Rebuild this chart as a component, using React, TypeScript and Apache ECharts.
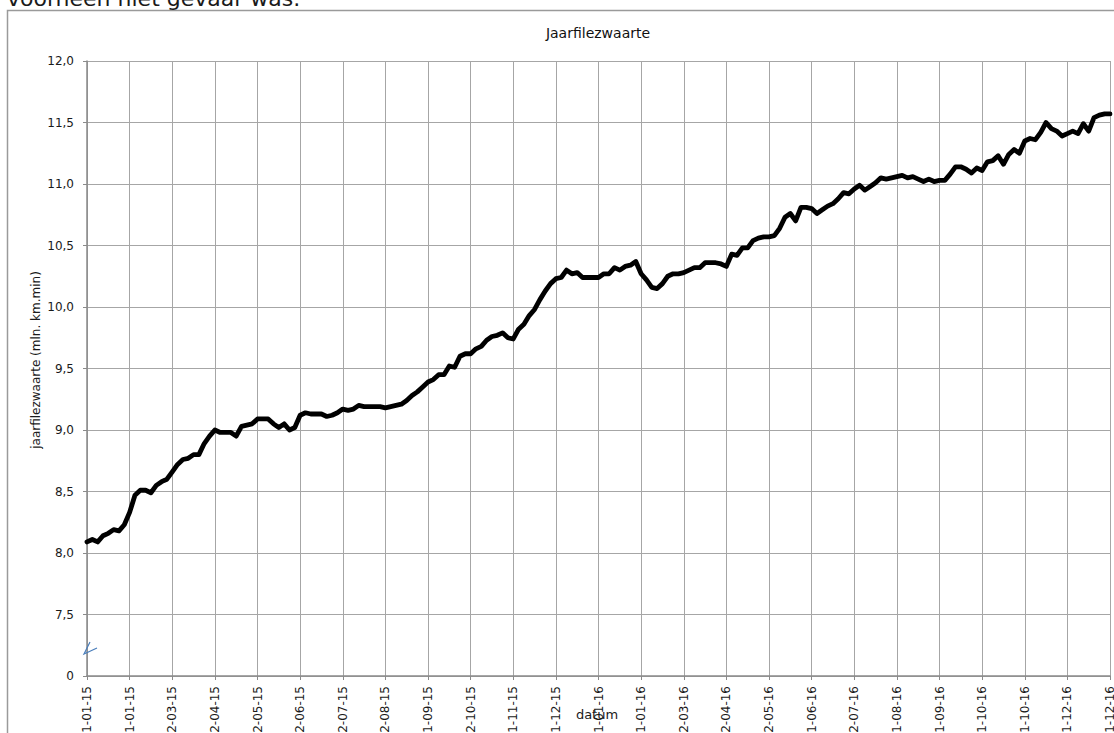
import React, { useEffect, useRef } from "react";
import * as echarts from "echarts";

const tickLabels = [
  "01-01-15", "31-01-15", "02-03-15", "02-04-15", "02-05-15", "02-06-15", "02-07-15", "02-08-15",
  "01-09-15", "02-10-15", "01-11-15", "01-12-15", "01-01-16", "31-01-16", "02-03-16", "02-04-16",
  "02-05-16", "01-06-16", "02-07-16", "01-08-16", "01-09-16", "01-10-16", "31-10-16", "01-12-16", "31-12-16",
];

// sampled every 1/8 of a label interval
const pointsPerTick = 8;
const jaarfilezwaarte = [
  8.09, 8.11, 8.09, 8.14, 8.16, 8.19, 8.18, 8.23, 8.33, 8.47,
  8.51, 8.51, 8.49, 8.55, 8.58, 8.60, 8.66, 8.72, 8.76, 8.77,
  8.80, 8.80, 8.89, 8.95, 9.00, 8.98, 8.98, 8.98, 8.95, 9.03,
  9.04, 9.05, 9.09, 9.09, 9.09, 9.05, 9.02, 9.05, 9.00, 9.02,
  9.12, 9.14, 9.13, 9.13, 9.13, 9.11, 9.12, 9.14, 9.17, 9.16,
  9.17, 9.20, 9.19, 9.19, 9.19, 9.19, 9.18, 9.19, 9.20, 9.21,
  9.24, 9.28, 9.31, 9.35, 9.39, 9.41, 9.45, 9.45, 9.52, 9.51,
  9.60, 9.62, 9.62, 9.66, 9.68, 9.73, 9.76, 9.77, 9.79, 9.75,
  9.74, 9.82, 9.86, 9.93, 9.98, 10.06, 10.13, 10.19, 10.23, 10.24,
  10.30, 10.27, 10.28, 10.24, 10.24, 10.24, 10.24, 10.27, 10.27, 10.32,
  10.30, 10.33, 10.34, 10.37, 10.27, 10.22, 10.16, 10.15, 10.19, 10.25,
  10.27, 10.27, 10.28, 10.30, 10.32, 10.32, 10.36, 10.36, 10.36, 10.35,
  10.33, 10.43, 10.42, 10.48, 10.48, 10.54, 10.56, 10.57, 10.57, 10.58,
  10.64, 10.73, 10.76, 10.70, 10.81, 10.81, 10.80, 10.76, 10.79, 10.82,
  10.84, 10.88, 10.93, 10.92, 10.96, 10.99, 10.95, 10.98, 11.01, 11.05,
  11.04, 11.05, 11.06, 11.07, 11.05, 11.06, 11.04, 11.02, 11.04, 11.02,
  11.03, 11.03, 11.08, 11.14, 11.14, 11.12, 11.09, 11.13, 11.11, 11.18,
  11.19, 11.23, 11.16, 11.24, 11.28, 11.25, 11.35, 11.37, 11.36, 11.42,
  11.50, 11.45, 11.43, 11.39, 11.41, 11.43, 11.41, 11.49, 11.43, 11.54,
  11.56, 11.57, 11.57,
];

const yMin = 7;
const yMax = 12;
const yStep = 0.5;

const FONT = "'DejaVu Sans', Verdana, sans-serif";

export default function App() {
  const ref = useRef<HTMLDivElement>(null);

  useEffect(() => {
    if (!ref.current) return;
    const chart = echarts.init(ref.current, null, { renderer: "svg", width: 1114, height: 733 });
    const data = jaarfilezwaarte.map((v, i) => [i / pointsPerTick, v]);
    chart.setOption({
      animation: false,
      backgroundColor: "#ffffff",
      textStyle: { fontFamily: FONT },
      grid: {
        left: 87,
        top: 61,
        width: 1023,
        height: 615,
        containLabel: false,
        outerBoundsMode: "none",
      },
      xAxis: {
        type: "value",
        min: 0,
        max: tickLabels.length - 1,
        interval: 1,
        axisLine: { show: true, onZero: false, lineStyle: { color: "#8a8a8a", width: 1.5 } },
        axisTick: { show: true, length: 4, lineStyle: { color: "#8a8a8a" } },
        axisLabel: {
          rotate: 90,
          margin: 10,
          fontSize: 12,
          color: "#1a1a1a",
          fontFamily: FONT,
          formatter: (v: number) => tickLabels[Math.round(v)] ?? "",
        },
        splitLine: { show: true, lineStyle: { color: "#a6a6a6", width: 1 } },
      },
      yAxis: {
        type: "value",
        min: yMin,
        max: yMax,
        interval: yStep,
        axisLine: { show: true, lineStyle: { color: "#8a8a8a", width: 1.5 } },
        axisTick: { show: true, length: 4, lineStyle: { color: "#8a8a8a" } },
        axisLabel: {
          margin: 13,
          fontSize: 12,
          color: "#1a1a1a",
          fontFamily: FONT,
          formatter: (v: number) => (Math.abs(v - yMin) < 1e-9 ? "0" : v.toFixed(1).replace(".", ",")),
        },
        splitLine: { show: true, lineStyle: { color: "#a6a6a6", width: 1 } },
      },
      series: [
        {
          type: "line",
          data,
          showSymbol: false,
          symbol: "none",
          lineStyle: { color: "#000000", width: 4.8, join: "round", cap: "round" },
          z: 5,
        },
      ],
      graphic: [
        {
          type: "rect",
          shape: { x: 7.5, y: 10.5, width: 1120, height: 760 },
          style: { fill: "none", stroke: "#9a9a9a", lineWidth: 1.5 },
          silent: true,
          z: 0,
        },
        {
          type: "text",
          x: 7,
          y: 9,
          style: {
            text: "voorheen niet gevaar was.",
            font: `22px ${FONT}`,
            fill: "#1a1a1a",
            verticalAlign: "bottom",
            align: "left",
          },
          z: 10,
        },
        {
          type: "text",
          x: 598,
          y: 33,
          style: {
            text: "Jaarfilezwaarte",
            font: `14px ${FONT}`,
            fill: "#111",
            align: "center",
            verticalAlign: "middle",
          },
          z: 10,
        },
        {
          type: "text",
          x: 36,
          y: 360,
          rotation: Math.PI / 2,
          style: {
            text: "jaarfilezwaarte (mln. km.min)",
            font: `12px ${FONT}`,
            fill: "#1a1a1a",
            align: "center",
            verticalAlign: "middle",
          },
          z: 10,
        },
        {
          type: "text",
          x: 597,
          y: 714,
          style: {
            text: "datum",
            font: `13px ${FONT}`,
            fill: "#1a1a1a",
            align: "center",
            verticalAlign: "middle",
          },
          z: 10,
        },
        {
          type: "polyline",
          shape: { points: [[90, 642], [84, 654], [97, 648]] },
          style: { stroke: "#4a7ebb", lineWidth: 1.2, fill: "none" },
          z: 10,
        },
      ],
    });
    return () => chart.dispose();
  }, []);

  return (
    <div
      ref={ref}
      style={{ position: "fixed", left: 0, top: 0, width: 1114, height: 733 }}
    />
  );
}
